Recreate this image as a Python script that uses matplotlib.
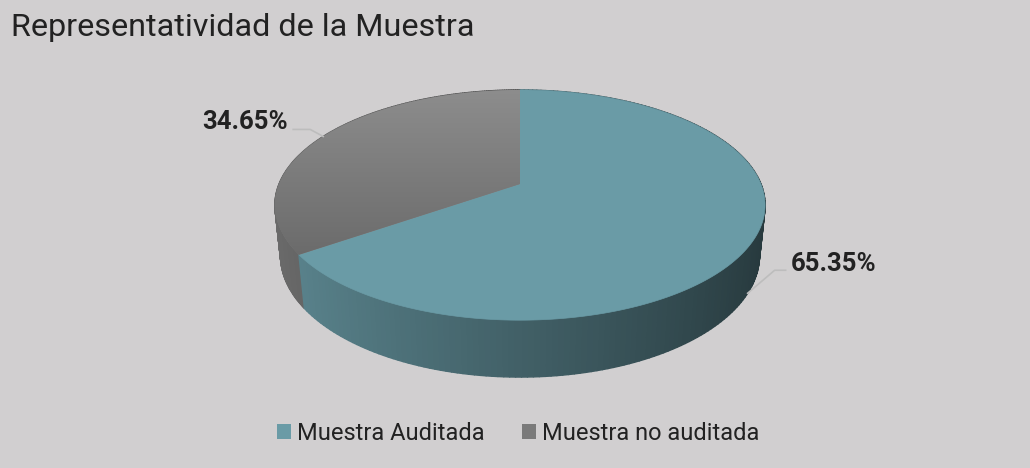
import numpy as np
import matplotlib
matplotlib.use('Agg')
import matplotlib.pyplot as plt
from matplotlib.collections import PolyCollection
from matplotlib.patches import Polygon, Patch
from matplotlib.colors import to_rgb

title = 'Representatividad de la Muestra'
labels = ['Muestra Auditada', 'Muestra no auditada']
values = [65.35, 34.65]
colors = ['#6a9ba6', '#7a7a7a']

BG = '#d1cfd0'
TXT = '#222222'
plt.rcParams['font.family'] = ['Roboto', 'DejaVu Sans']

# simple perspective camera for the 3d pie
CX, CY = 520, 184
F, D = 1168.7, 4.85
PHI = np.radians(27.5)
T = 0.238  # thickness


def proj(u, v, h):
    s, c = np.sin(PHI), np.cos(PHI)
    yp = v * s + h * c
    zp = v * c - h * s
    w = D + zp
    return CX + F * u / w, CY - F * yp / w


fig = plt.figure(figsize=(10.3, 4.68), dpi=100, facecolor=BG)
ax = fig.add_axes([0, 0, 1, 1])
ax.set_facecolor(BG)
ax.set_xlim(0, 1030)
ax.set_ylim(468, 0)
ax.axis('off')

# angles clockwise from 12 o'clock, like excel
fr = np.array(values) / sum(values)
edges = np.concatenate([[0], np.cumsum(fr) * 360])

quads, qcol, qdepth = [], [], []
tops = []
for i in range(len(values)):
    th = np.radians(np.linspace(edges[i], edges[i + 1], 200))
    u, v = np.sin(th), np.cos(th)
    xt, yt = proj(u, v, 0)
    xb, yb = proj(u, v, -T)
    base = np.array(to_rgb(colors[i]))
    for k in range(len(th) - 1):
        um = (u[k] + u[k + 1]) / 2
        vm = (v[k] + v[k + 1]) / 2
        f = np.clip(0.62 - 0.26 * um, 0, 1)
        quads.append([(xt[k], yt[k]), (xt[k + 1], yt[k + 1]),
                      (xb[k + 1], yb[k + 1]), (xb[k], yb[k])])
        qcol.append(tuple(base * f))
        qdepth.append(vm)
    cx0, cy0 = proj(0, 0, 0)
    tops.append(np.vstack([[cx0, cy0], np.column_stack([xt, yt])]))

order = np.argsort(qdepth)[::-1]
walls = PolyCollection([quads[j] for j in order],
                       facecolors=[qcol[j] for j in order],
                       edgecolors=[qcol[j] for j in order], linewidths=1.0)
ax.add_collection(walls)

# top faces
ax.add_patch(Polygon(tops[0], closed=True, fc=colors[0], ec=colors[0], lw=0.5))
gp = Polygon(tops[1], closed=True, fc=colors[1], ec='none')
ax.add_patch(gp)
ys = tops[1][:, 1]
g = np.linspace(0, 1, 100)[:, None]
c1, c2 = np.array(to_rgb('#8d8d8d')), np.array(to_rgb('#6b6b6b'))
grad = (c1 * (1 - g) + c2 * g)[:, None, :]
im = ax.imshow(grad, extent=(tops[1][:, 0].min() - 2, tops[1][:, 0].max() + 2,
                             ys.max() + 2, ys.min() - 2),
               origin='upper', aspect='auto', zorder=2)
im.set_clip_path(gp)
ax.set_xlim(0, 1030)
ax.set_ylim(468, 0)

# data labels with leader lines
for i in range(len(values)):
    mid = np.radians((edges[i] + edges[i + 1]) / 2)
    u, v = np.sin(mid), np.cos(mid)
    h = -T if v < 0 else 0
    ax_, ay_ = proj(u, v, h)
    txt = f'{values[i]:.2f}%'
    if u > 0:
        tx, ty = ax_ + 43, ay_ - 22
        ax.plot([ax_, tx - 16, tx - 5], [ay_, ty - 1, ty - 1], color='#bdbdbd', lw=1.2, zorder=3)
        ax.text(tx, ty, txt, ha='left', va='baseline', fontsize=18.5,
                fontweight='bold', color=TXT)
    else:
        tx, ty = ax_ - 35, ay_ - 7
        ax.plot([ax_, ax_ - 13, tx + 5], [ay_, ty, ty], color='#bdbdbd', lw=1.2, zorder=3)
        ax.text(tx, ty, txt, ha='right', va='baseline', fontsize=18.5,
                fontweight='bold', color=TXT)

ax.text(11, 36, title, ha='left', va='baseline', fontsize=23.3, color=TXT)

handles = [Patch(facecolor=c, edgecolor='none') for c in colors]
fig.legend(handles, labels, loc='center', bbox_to_anchor=(0.503, 0.074), ncol=2,
           frameon=False, fontsize=17, labelcolor=TXT, handlelength=0.6,
           handleheight=0.6, handletextpad=0.25, columnspacing=1.6)

fig.savefig('out.png', dpi=100, facecolor=BG)
